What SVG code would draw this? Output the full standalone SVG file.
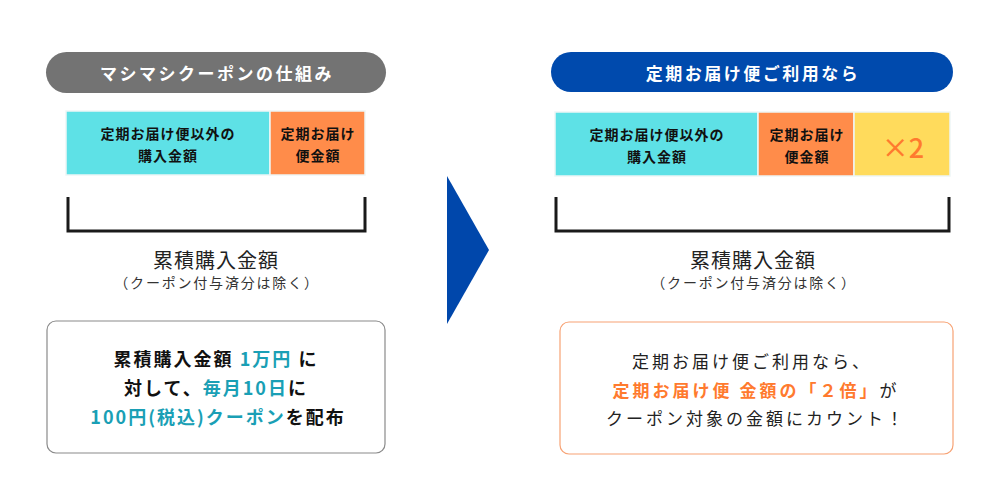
<svg xmlns="http://www.w3.org/2000/svg" width="1000" height="500" viewBox="0 0 1000 500">
<style>
text{font-family:"Noto Sans CJK JP","Noto Sans",sans-serif;}
.pill{font-size:17px;font-weight:bold;fill:#fff;letter-spacing:2.5px;text-anchor:middle;}
.bar{font-size:14px;font-weight:bold;fill:#111;letter-spacing:1px;text-anchor:middle;}
.tot{font-size:20px;fill:#222;letter-spacing:1px;text-anchor:middle;}
.sub{font-size:14px;fill:#333;letter-spacing:1.8px;text-anchor:middle;}
.lb{font-size:18px;font-weight:bold;fill:#111;letter-spacing:2px;text-anchor:middle;}
.rb{font-size:17px;fill:#222;letter-spacing:3px;text-anchor:middle;}
.teal{fill:#1a9fb5;}
.org{fill:#ff7a2e;font-weight:bold;}
.bracket{fill:none;stroke:#1a1a1a;stroke-width:3;}
.cell{stroke:#eef6f6;stroke-width:1.5;}
</style>
<g id="left-title">
<rect x="46" y="52" width="340" height="41" rx="20.5" fill="#737373"/>
<text class="pill" x="217" y="80">マシマシクーポンの仕組み</text>
</g>
<g id="left-bar-other">
<rect class="cell" x="66" y="111" width="204" height="64" fill="#5ee1e6"/>
<text class="bar" x="168" y="139">定期お届け便以外の</text>
<text class="bar" x="168" y="161">購入金額</text>
</g>
<g id="left-bar-teiki">
<rect class="cell" x="270" y="111" width="95" height="64" fill="#ff8c4a"/>
<text class="bar" x="318" y="139">定期お届け</text>
<text class="bar" x="318" y="161">便金額</text>
</g>
<g id="left-bracket">
<path class="bracket" d="M68,197 V231 H365 V197"/>
</g>
<g id="left-total">
<text class="tot" x="216" y="268">累積購入金額</text>
<text class="sub" x="217" y="288">（クーポン付与済分は除く）</text>
</g>
<g id="left-box">
<rect x="47" y="321" width="338" height="132" rx="9" fill="#fff" stroke="#8a8a8a" stroke-width="1.2"/>
<text class="lb" x="216" y="366">累積購入金額 <tspan class="teal">1万円</tspan> に</text>
<text class="lb" x="216" y="395">対して、<tspan class="teal">毎月10日</tspan>に</text>
<text class="lb" x="218" y="424"><tspan class="teal">100円(税込)クーポン</tspan>を配布</text>
</g>
<g id="connectors">
<polygon points="447,176 489,250 447,324" fill="#0047ab"/>
</g>
<g id="right-title">
<rect x="551" y="52" width="402" height="40" rx="20" fill="#004aad"/>
<text class="pill" x="753" y="80">定期お届け便ご利用なら</text>
</g>
<g id="right-bar-other">
<rect class="cell" x="555" y="112" width="203" height="64" fill="#5ee1e6"/>
<text class="bar" x="657" y="140">定期お届け便以外の</text>
<text class="bar" x="657" y="162">購入金額</text>
</g>
<g id="right-bar-teiki">
<rect class="cell" x="758" y="112" width="96" height="64" fill="#ff8c4a"/>
<text class="bar" x="807" y="140">定期お届け</text>
<text class="bar" x="807" y="162">便金額</text>
</g>
<g id="right-bar-x2">
<rect class="cell" x="854" y="112" width="96" height="64" fill="#ffdb5c"/>
<text x="903" y="158" font-size="27" font-weight="500" fill="#ff7a2e" text-anchor="middle">×2</text>
</g>
<g id="right-bracket">
<path class="bracket" d="M556,197 V231 H949 V197"/>
</g>
<g id="right-total">
<text class="tot" x="753" y="268">累積購入金額</text>
<text class="sub" x="754" y="288">（クーポン付与済分は除く）</text>
</g>
<g id="right-box">
<rect x="560" y="322" width="393" height="132" rx="9" fill="#fff" stroke="#f7a274" stroke-width="1.2"/>
<text class="rb" x="752" y="368">定期お届け便ご利用なら、</text>
<text class="rb" x="756" y="397"><tspan class="org">定期お届け便 金額の「２倍」</tspan>が</text>
<text class="rb" x="756" y="425">クーポン対象の金額にカウント！</text>
</g>
</svg>
